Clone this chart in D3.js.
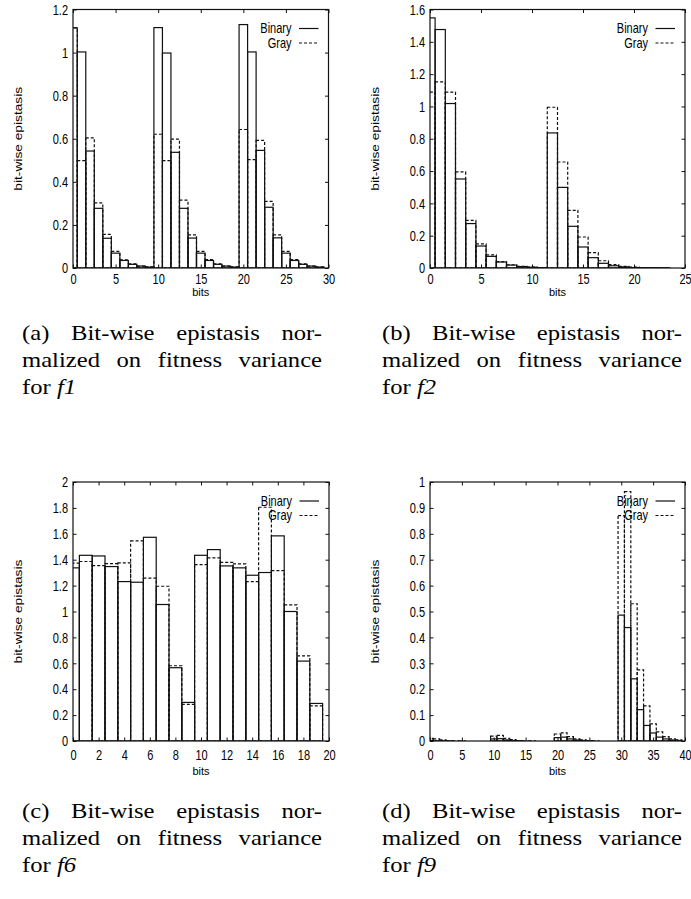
<!DOCTYPE html>
<html>
<head>
<meta charset="utf-8">
<script src="https://cdn.jsdelivr.net/npm/d3@7"></script>
<style>
body { margin: 0; background: #fff; }
svg text.sans { font-family: "Liberation Sans", Arial, sans-serif; font-size: 11px; fill: #000; }
svg text.stretch { transform-box: fill-box; transform-origin: center; transform: scaleY(1.25); }
svg text.cap { font-family: "Liberation Serif", "Times New Roman", serif; font-size: 22px; fill: #000; }
</style>
</head>
<body>
<svg width="691" height="899"></svg>
<script>
// bit-wise epistasis per bit
var f1Binary = [1.115, 1.003, 0.543, 0.277, 0.138, 0.069, 0.035, 0.017, 0.009, 0.004,
    1.116, 0.998, 0.537, 0.277, 0.139, 0.069, 0.035, 0.017, 0.009, 0.004,
    1.130, 1.003, 0.546, 0.282, 0.140, 0.069, 0.035, 0.017, 0.009, 0.004];
var f1Gray = [1.115, 0.498, 0.604, 0.302, 0.156, 0.077, 0.038, 0.019, 0.009, 0.005,
    0.621, 0.498, 0.598, 0.315, 0.154, 0.077, 0.039, 0.019, 0.009, 0.005,
    0.643, 0.503, 0.592, 0.309, 0.154, 0.077, 0.039, 0.019, 0.009, 0.005];

var f2Binary = [1.548, 1.476, 1.018, 0.551, 0.275, 0.136, 0.072, 0.037, 0.018, 0.009, 0.005, 0.002,
    0.836, 0.499, 0.258, 0.130, 0.064, 0.029, 0.014, 0.007, 0.003, 0.002, 0.001, 0.0005];
var f2Gray = [1.088, 1.152, 1.088, 0.595, 0.295, 0.149, 0.081, 0.040, 0.020, 0.010, 0.005, 0.003,
    0.995, 0.656, 0.357, 0.192, 0.095, 0.045, 0.021, 0.010, 0.005, 0.003, 0.002, 0.001];

var f6Binary = [1.337, 1.434, 1.429, 1.347, 1.231, 1.226, 1.573, 1.054, 0.566, 0.298,
    1.434, 1.478, 1.352, 1.337, 1.280, 1.301, 1.584, 1.000, 0.617, 0.290];
var f6Gray = [1.373, 1.386, 1.355, 1.370, 1.375, 1.545, 1.257, 1.195, 0.581, 0.283,
    1.362, 1.414, 1.380, 1.368, 1.231, 1.805, 1.316, 1.051, 0.658, 0.272];

var f9Binary = [0.002, 0.001, 0.0005, 0.0003, 0, 0, 0, 0, 0, 0,
    0.008, 0.009, 0.004, 0.002, 0.001, 0, 0, 0, 0, 0,
    0.013, 0.015, 0.008, 0.004, 0.002, 0.001, 0, 0, 0, 0,
    0.486, 0.438, 0.240, 0.121, 0.060, 0.031, 0.015, 0.008, 0.004, 0.002];
var f9Gray = [0.010, 0.008, 0.004, 0.002, 0.001, 0.0005, 0, 0, 0, 0,
    0.019, 0.022, 0.010, 0.005, 0.002, 0.001, 0.0005, 0, 0, 0,
    0.027, 0.031, 0.017, 0.008, 0.004, 0.002, 0.001, 0, 0, 0,
    0.870, 0.963, 0.530, 0.275, 0.136, 0.066, 0.035, 0.017, 0.008, 0.004];

var legendLabels = ['Binary', 'Gray'];
var xAxisTitle = 'bits';
var yAxisTitle = 'bit-wise epistasis';

var captionA = ['(a) Bit-wise epistasis nor-', 'malized on fitness variance', 'for ', 'f1'];
var captionB = ['(b) Bit-wise epistasis nor-', 'malized on fitness variance', 'for ', 'f2'];
var captionC = ['(c) Bit-wise epistasis nor-', 'malized on fitness variance', 'for ', 'f6'];
var captionD = ['(d) Bit-wise epistasis nor-', 'malized on fitness variance', 'for ', 'f9'];

var svg = d3.select('svg');

var panels = [
    {bin: f1Binary, gray: f1Gray, xMax: 30, xStep: 5, yMax: 1.2, yStep: 0.2,
        box: [73, 9.5, 328.5, 268], tickGap: 11.5, bitsGap: 24, yLabelX: 18, caption: captionA, capX: 22, capY: 340},
    {bin: f2Binary, gray: f2Gray, xMax: 25, xStep: 5, yMax: 1.6, yStep: 0.2,
        box: [430, 9.5, 685, 268], tickGap: 11.5, bitsGap: 24, yLabelX: 375, caption: captionB, capX: 382, capY: 340},
    {bin: f6Binary, gray: f6Gray, xMax: 20, xStep: 2, yMax: 2, yStep: 0.2,
        box: [73, 482, 329, 741], tickGap: 14, bitsGap: 30, yLabelX: 18, caption: captionC, capX: 22, capY: 818},
    {bin: f9Binary, gray: f9Gray, xMax: 40, xStep: 5, yMax: 1, yStep: 0.1,
        box: [430, 482, 685, 741], tickGap: 14, bitsGap: 30, yLabelX: 375, caption: captionD, capX: 382, capY: 818}
];

var fmt = function (d) {
    return String(Math.round(d * 10) / 10);
};

var addBoxes = function (group, values, x, y, dashed) {
    var w = x(1) - x(0);
    return group.selectAll(null)
        .data(values)
        .enter()
        .append('rect')
        .attr('x', function (d, j) { return x(j - 0.5); })
        .attr('width', w)
        .attr('y', function (d) { return y(d); })
        .attr('height', function (d) { return y(0) - y(d); })
        .attr('fill', 'none')
        .attr('stroke', '#111')
        .attr('stroke-width', 1.2)
        .attr('stroke-dasharray', dashed ? '3,2' : null);
};

// caption lines: widened glyphs, then justified with word spacing
var CAP_WIDTH = 300, CAP_SCALE = 1.12;
var captionLine = function (x, y) {
    return svg.append('text').attr('class', 'cap')
        .attr('transform', 'translate(' + x + ',' + y + ') scale(' + CAP_SCALE + ',1)');
};
var justify = function (textSel) {
    var natural = textSel.node().getComputedTextLength();
    var spaces = (textSel.text().match(/ /g) || []).length;
    var target = CAP_WIDTH / CAP_SCALE;
    if (spaces > 0 && natural < target) {
        textSel.attr('word-spacing', (target - natural) / spaces);
    }
};

var drawPanel = function (p, i) {
    var L = p.box[0], T = p.box[1], R = p.box[2], B = p.box[3];
    var x = d3.scaleLinear().domain([0, p.xMax]).range([L, R]);
    var y = d3.scaleLinear().domain([0, p.yMax]).range([B, T]);
    var g = svg.append('g');
    var clipId = 'clip' + i;

    g.append('clipPath').attr('id', clipId).append('rect')
        .attr('x', L).attr('y', T).attr('width', R - L).attr('height', B - T);

    var xTicks = d3.range(0, p.xMax + 1e-6, p.xStep);
    var yTicks = d3.range(0, p.yMax + 1e-6, p.yStep);

    // bars: binary solid, gray dashed on top
    var bars = g.append('g').attr('clip-path', 'url(#' + clipId + ')');
    addBoxes(bars, p.bin, x, y, false);
    addBoxes(bars, p.gray, x, y, true);

    // axes with inward ticks on all four sides
    var bottom = g.append('g').attr('transform', 'translate(0,' + B + ')')
        .call(d3.axisBottom(x).tickValues(xTicks).tickSizeInner(-3.5).tickSizeOuter(0).tickFormat(fmt));
    g.append('g').attr('transform', 'translate(0,' + T + ')')
        .call(d3.axisTop(x).tickValues(xTicks).tickSizeInner(-3.5).tickSizeOuter(0).tickFormat(''));
    var left = g.append('g').attr('transform', 'translate(' + L + ',0)')
        .call(d3.axisLeft(y).tickValues(yTicks).tickSizeInner(-3.5).tickSizeOuter(0).tickPadding(5).tickFormat(fmt));
    g.append('g').attr('transform', 'translate(' + R + ',0)')
        .call(d3.axisRight(y).tickValues(yTicks).tickSizeInner(-3.5).tickSizeOuter(0).tickFormat(''));

    g.selectAll('.domain').remove();
    g.selectAll('.tick line').attr('stroke', '#111').attr('stroke-width', 1);
    g.selectAll('.tick text').attr('class', 'sans stretch').attr('font-family', null).attr('font-size', null);
    bottom.selectAll('.tick text').attr('y', p.tickGap).attr('dy', '0.35em');
    left.selectAll('.tick text').attr('dy', '0.35em');

    // frame
    g.append('rect')
        .attr('x', L).attr('y', T).attr('width', R - L).attr('height', B - T)
        .attr('fill', 'none').attr('stroke', '#111').attr('stroke-width', 1.2);

    // axis titles
    g.append('text').attr('class', 'sans')
        .attr('x', (L + R) / 2).attr('y', B + p.bitsGap).attr('dy', '0.35em')
        .attr('text-anchor', 'middle').text(xAxisTitle);
    g.append('text').attr('class', 'sans')
        .attr('transform', 'translate(' + p.yLabelX + ',' + ((T + B) / 2) + ') scale(1,1.25) rotate(-90)')
        .attr('dy', '0.35em').attr('text-anchor', 'middle').text(yAxisTitle);

    // legend
    legendLabels.forEach(function (name, k) {
        var ly = T + 19 + k * 14.5;
        g.append('text').attr('class', 'sans stretch')
            .attr('x', R - 37).attr('y', ly).attr('dy', '0.35em')
            .attr('text-anchor', 'end').text(name);
        g.append('line')
            .attr('x1', R - 29.5).attr('x2', R - 10).attr('y1', ly).attr('y2', ly)
            .attr('stroke', '#111').attr('stroke-width', 1.2)
            .attr('stroke-dasharray', k === 1 ? '3,2' : null);
    });

    // caption
    var line1 = captionLine(p.capX, p.capY).text(p.caption[0]);
    justify(line1);
    var line2 = captionLine(p.capX, p.capY + 27).text(p.caption[1]);
    justify(line2);
    var line3 = captionLine(p.capX, p.capY + 54);
    line3.append('tspan').text(p.caption[2]);
    line3.append('tspan').attr('font-style', 'italic').text(p.caption[3]);
};

panels.forEach(drawPanel);
</script>
</body>
</html>
